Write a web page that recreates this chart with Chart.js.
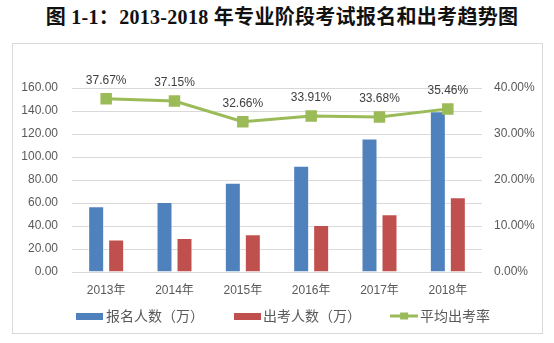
<!DOCTYPE html>
<html>
<head>
<meta charset="utf-8">
<script src="https://cdn.jsdelivr.net/npm/chart.js@4.4.0/dist/chart.umd.min.js"></script>
<style>
  body { margin: 0; background: #fff; width: 554px; height: 343px; position: relative; overflow: hidden; }
  #title {
    position: absolute; left: 0; top: 1px; width: 564px; text-align: center;
    font: bold 20px "Liberation Serif", "Noto Sans CJK SC", serif; color: #111;
    letter-spacing: 0.3px;
  }
  #box {
    position: absolute; left: 12px; top: 43px; width: 529px; height: 289px;
    border: 1px solid #d9d9d9;
  }
</style>
</head>
<body>
<div id="title">图 1-1：2013-2018 年专业阶段考试报名和出考趋势图</div>
<div id="box"><canvas id="chart" width="529" height="289"></canvas></div>
<script>
const years = ['2013年', '2014年', '2015年', '2016年', '2017年', '2018年']
const applicants = [57.1, 60.9, 77.7, 92.5, 116.0, 139.7]   // 报名人数（万）
const examinees = [28.2, 29.6, 32.8, 40.9, 50.2, 65.0]      // 出考人数（万）
const attendRate = [37.67, 37.15, 32.66, 33.91, 33.68, 35.46] // 平均出考率 %

const BLUE = '#4F81BD'
const RED = '#C0504D'
const GREEN = '#9BBB59'
const TXT = '#595959'
const LEGEND_FONT = '14px "Noto Sans CJK SC", sans-serif'

// legend swatches
function swatch(color, isLine){
    const c = document.createElement('canvas')
    if (isLine){
        c.width = 28; c.height = 9
        const g = c.getContext('2d')
        g.fillStyle = color
        g.fillRect(0, 3, 28, 3)
        g.fillRect(10, 1, 8, 7)
    } else {
        c.width = 27; c.height = 7
        const g = c.getContext('2d')
        g.fillStyle = color
        g.fillRect(0, 0, 27, 7)
    }
    return c
}

// pad legend text with trailing spaces so the items sit apart like the original
function padText(ctx, text, target){
    ctx.save()
    ctx.font = LEGEND_FONT
    let t = text
    let n = 0
    while (ctx.measureText(t).width < target && n < 60){
        t += ' '
        n++
    }
    ctx.restore()
    return t
}

const pointLabels = {
    id: 'pointLabels',
    afterDatasetsDraw(chart){
        const ctx = chart.ctx
        const meta = chart.getDatasetMeta(2)
        ctx.save()
        ctx.font = '12px "Liberation Sans", Arial, sans-serif'
        ctx.fillStyle = '#404040'
        ctx.textAlign = 'center'
        ctx.textBaseline = 'middle'
        meta.data.forEach((pt, i)=>{
            ctx.fillText(attendRate[i].toFixed(2) + '%', pt.x, pt.y - 18)
        })
        ctx.restore()
    }
}

new Chart(document.getElementById('chart'), {
    data: {
        labels: years,
        datasets: [
            {
                type: 'bar', label: '报名人数（万）', data: applicants, yAxisID: 'y',
                backgroundColor: BLUE, borderColor: 'rgba(255,255,255,0.5)', borderWidth: 1,
                categoryPercentage: 0.585, barPercentage: 0.8, order: 1,
            },
            {
                type: 'bar', label: '出考人数（万）', data: examinees, yAxisID: 'y',
                backgroundColor: RED, borderColor: 'rgba(255,255,255,0.5)', borderWidth: 1,
                categoryPercentage: 0.585, barPercentage: 0.8, order: 1,
            },
            {
                type: 'line', label: '平均出考率', data: attendRate, yAxisID: 'y1',
                borderColor: GREEN, backgroundColor: GREEN, borderWidth: 3,
                pointStyle: 'rect', pointRadius: 6, pointBackgroundColor: GREEN,
                pointBorderColor: GREEN, tension: 0, order: 0,
            },
        ]
    },
    options: {
        responsive: false,
        animation: false,
        layout: { padding: { top: 44, left: 6, right: -10, bottom: 0 } },
        plugins: {
            tooltip: { enabled: false },
            legend: {
                position: 'bottom',
                labels: {
                    usePointStyle: true,
                    pointStyleWidth: 18,
                    padding: 9,
                    color: TXT,
                    font: { family: '"Noto Sans CJK SC", sans-serif', size: 14 },
                    generateLabels: (chart)=>{
                        const sw = [swatch(BLUE), swatch(RED), swatch(GREEN, true)]
                        return chart.data.datasets.map((ds, i)=>({
                            text: i < 2 ? padText(chart.ctx, ds.label, 121.5) : ds.label,
                            pointStyle: sw[i],
                            fillStyle: 'transparent', strokeStyle: 'transparent', lineWidth: 0,
                            fontColor: TXT, datasetIndex: i, hidden: false,
                        }))
                    }
                }
            }
        },
        scales: {
            x: {
                grid: { display: false },
                border: { display: false },
                ticks: { color: TXT, padding: 3, font: { family: '"Liberation Sans", "Noto Sans CJK SC"', size: 12 } },
                afterFit: (s)=>{ s.height = 28 },
            },
            y: {
                position: 'left', min: 0, max: 160,
                grid: { color: '#d9d9d9', lineWidth: 1, drawTicks: false },
                border: { display: false },
                ticks: {
                    stepSize: 20, padding: 14, color: TXT,
                    font: { family: '"Liberation Sans", Arial', size: 12 },
                    callback: (v)=>v.toFixed(2),
                },
                afterFit: (s)=>{ s.width = 53 },
            },
            y1: {
                position: 'right', min: 0, max: 40,
                grid: { display: false, drawTicks: false },
                border: { display: false },
                ticks: {
                    stepSize: 10, padding: 12, color: TXT,
                    font: { family: '"Liberation Sans", Arial', size: 12 },
                    callback: (v)=>v.toFixed(2) + '%',
                },
                afterFit: (s)=>{ s.width = 70 },
            },
        }
    },
    plugins: [pointLabels],
})
</script>
</body>
</html>
